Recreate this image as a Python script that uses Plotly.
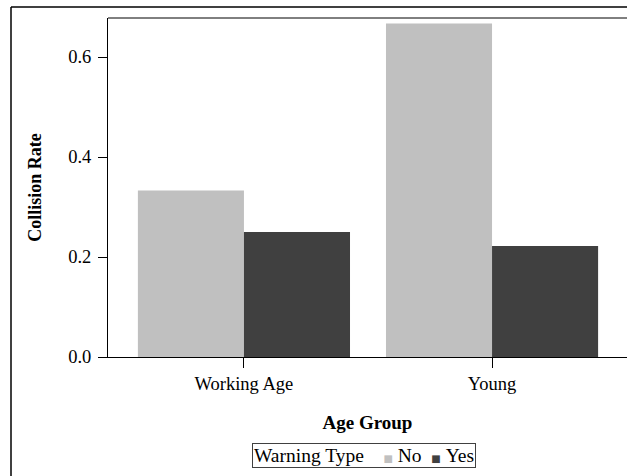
import plotly.graph_objects as go

categories = ["Working Age", "Young"]
no_values = [0.333, 0.667]
yes_values = [0.25, 0.222]
series_names = ["No", "Yes"]
y_ticks = [0.0, 0.2, 0.4, 0.6]
y_tick_labels = ["0.0", "0.2", "0.4", "0.6"]
legend_title = "Warning Type"

colors = {"No": "#c0c0c0", "Yes": "#404040"}
FONT = "Liberation Serif, Times New Roman, serif"

fig = go.Figure()
for name, vals in zip(series_names, [no_values, yes_values]):
    fig.add_trace(go.Bar(x=categories, y=vals, name=name,
                         marker=dict(color=colors[name], line=dict(width=0)),
                         showlegend=False))

L, T, B = 108, 18, 119
W, H = 627, 476
pw = W - L
ph = H - T - B

sq = "<span style='color:{c};font-size:10px;font-family:DejaVu Sans'>■</span>"
legend_text = (legend_title + "&nbsp;&nbsp;&nbsp;&nbsp;"
               + "&nbsp;&nbsp;".join(sq.format(c=colors[n]) + "&nbsp;" + n for n in series_names))

fig.update_layout(
    width=W, height=H,
    margin=dict(l=L, r=0, t=T, b=B, autoexpand=False),
    paper_bgcolor="white", plot_bgcolor="white",
    barmode="group", bargap=0.145, bargroupgap=0,
    font=dict(family=FONT, size=18, color="black"),
    showlegend=False,
    xaxis=dict(
        range=[-0.548, 1.544], automargin=False,
        showline=True, linecolor="black", linewidth=1, mirror=False,
        ticks="outside", ticklen=10, tickcolor="black",
        showgrid=False, zeroline=False,
        tickfont=dict(size=18.5),
        title=dict(text="<b>Age Group</b>", font=dict(size=19), standoff=22),
    ),
    yaxis=dict(
        range=[0, 0.678], automargin=False,
        tickvals=y_ticks, ticktext=y_tick_labels,
        showline=True, linecolor="black", linewidth=1, mirror=False,
        ticks="outside", ticklen=9, tickcolor="black",
        showgrid=False, zeroline=False,
        tickfont=dict(size=18.5), ticklabelstandoff=3,
        title=dict(text="<b>Collision Rate</b>", font=dict(size=18), standoff=21),
    ),
    annotations=[dict(
        xref="paper", yref="paper",
        x=(252 - L) / pw, xanchor="left",
        y=-(443 - (T + ph)) / ph, yanchor="top",
        text=legend_text, showarrow=False,
        font=dict(size=19.5, family=FONT),
        bordercolor="#404040", borderwidth=1, borderpad=1,
        bgcolor="white",
    )],
    shapes=[
        dict(type="rect", xref="paper", yref="paper",
             x0=1 - 12 / pw, x1=1.3, y0=1 + 1.5 / ph, y1=1 + 9.5 / ph,
             line=dict(width=0), fillcolor="white"),
        dict(type="line", xref="paper", yref="paper",
             x0=(11 - L) / pw, x1=1.3, y0=1 + (T - 7) / ph, y1=1 + (T - 7) / ph,
             line=dict(color="black", width=1.5)),
        dict(type="line", xref="paper", yref="paper",
             x0=(11 - L) / pw, x1=(11 - L) / pw, y0=1 + (T - 7) / ph, y1=-0.6,
             line=dict(color="black", width=1.5)),
        dict(type="line", xref="paper", yref="paper",
             x0=0, x1=1.3, y0=1, y1=1,
             line=dict(color="black", width=1)),
    ],
)

fig.write_html("out.html",
               config={"displayModeBar": False},
               post_script="document.body.style.margin='0';document.body.style.overflow='hidden';")
